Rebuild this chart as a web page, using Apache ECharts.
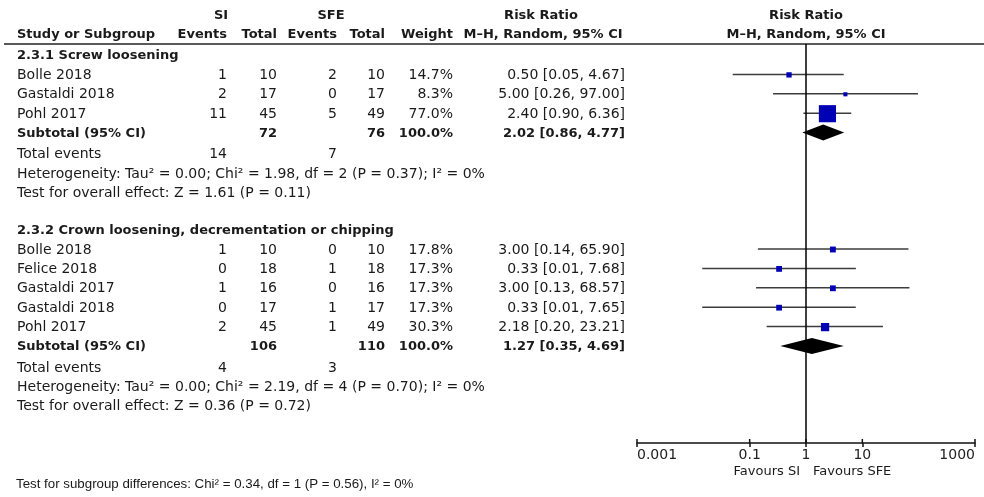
<!DOCTYPE html>
<html>
<head>
<meta charset="utf-8">
<script src="https://cdn.jsdelivr.net/npm/echarts@6/dist/echarts.min.js"></script>
<style>
  html, body { margin: 0; padding: 0; background: #fff; }
  #chart { width: 984px; height: 497px; }
</style>
</head>
<body>
<div id="chart"></div>
<script>
// ---- 2.3.1 Screw loosening ----
const screwStudies   = ['Bolle 2018', 'Gastaldi 2018', 'Pohl 2017'];
const screwSIEvents  = [1, 2, 11];
const screwSITotal   = [10, 17, 45];
const screwSFEEvents = [2, 0, 5];
const screwSFETotal  = [10, 17, 49];
const screwWeight    = [14.7, 8.3, 77.0];
const screwRR        = [0.50, 5.00, 2.40];
const screwLower     = [0.05, 0.26, 0.90];
const screwUpper     = [4.67, 97.00, 6.36];
const screwPooled    = [2.02, 0.86, 4.77];   // estimate, lower, upper
const screwTotals    = [72, 76];             // SI, SFE participants
const screwEvents    = [14, 7];              // SI, SFE events
const screwHet       = 'Heterogeneity: Tau² = 0.00; Chi² = 1.98, df = 2 (P = 0.37); I² = 0%';
const screwEffect    = 'Test for overall effect: Z = 1.61 (P = 0.11)';

// ---- 2.3.2 Crown loosening, decrementation or chipping ----
const crownStudies   = ['Bolle 2018', 'Felice 2018', 'Gastaldi 2017', 'Gastaldi 2018', 'Pohl 2017'];
const crownSIEvents  = [1, 0, 1, 0, 2];
const crownSITotal   = [10, 18, 16, 17, 45];
const crownSFEEvents = [0, 1, 0, 1, 1];
const crownSFETotal  = [10, 18, 16, 17, 49];
const crownWeight    = [17.8, 17.3, 17.3, 17.3, 30.3];
const crownRR        = [3.00, 0.333, 3.00, 0.333, 2.18];
const crownLower     = [0.14, 0.0144, 0.13, 0.0144, 0.20];
const crownUpper     = [65.90, 7.68, 68.57, 7.65, 23.21];
const crownPooled    = [1.27, 0.35, 4.69];
const crownTotals    = [106, 110];
const crownEvents    = [4, 3];
const crownHet       = 'Heterogeneity: Tau² = 0.00; Chi² = 2.19, df = 4 (P = 0.70); I² = 0%';
const crownEffect    = 'Test for overall effect: Z = 0.36 (P = 0.72)';

const subgroupTest = 'Test for subgroup differences: Chi² = 0.34, df = 1 (P = 0.56), I² = 0%';
const axisTicks = [0.001, 0.1, 1, 10, 1000];

// ---- layout ----
const ROW0 = 55, ROW_H = 19.4;
const rowY = i => ROW0 + i * ROW_H;
const FONT = '"DejaVu Sans", Verdana, sans-serif';
const INK = '#1a1a1a';
const COL = { study: 17, siEv: 227, siTot: 277, sfeEv: 337, sfeTot: 385, weight: 453, rr: 625 };

function txt(str, x, y, align, bold, size, family) {
  return {
    type: 'text', x: x, y: y, silent: true,
    style: {
      text: String(str),
      align: align, textAlign: align,
      verticalAlign: 'middle', textVerticalAlign: 'middle',
      font: (bold ? 'bold ' : '') + (size || (bold ? 13 : 14)) + 'px ' + (family || FONT),
      fill: INK
    }
  };
}
const fmt2 = v => v.toFixed(2);
const ciText = (rr, lo, hi) => fmt2(rr) + ' [' + fmt2(lo) + ', ' + fmt2(hi) + ']';

const graphics = [];
// column headers
graphics.push(txt('SI', 221, 16, 'center', true));
graphics.push(txt('SFE', 331, 16, 'center', true));
graphics.push(txt('Risk Ratio', 541, 16, 'center', true));
graphics.push(txt('Risk Ratio', 806, 16, 'center', true));
graphics.push(txt('Study or Subgroup', COL.study, 35, 'left', true));
graphics.push(txt('Events', COL.siEv, 35, 'right', true));
graphics.push(txt('Total', COL.siTot, 35, 'right', true));
graphics.push(txt('Events', COL.sfeEv, 35, 'right', true));
graphics.push(txt('Total', COL.sfeTot, 35, 'right', true));
graphics.push(txt('Weight', COL.weight, 35, 'right', true));
graphics.push(txt('M\u2013H, Random, 95% CI', 543, 35, 'center', true));
graphics.push(txt('M\u2013H, Random, 95% CI', 806, 35, 'center', true));
graphics.push({
  type: 'line', silent: true,
  shape: { x1: 4, y1: 44, x2: 984, y2: 44 },
  style: { stroke: '#222', lineWidth: 1.5 }
});

const forestRows = [];
const pooledRows = [];

function addGroup(startRow, title, studies, siEv, siTot, sfeEv, sfeTot, wt, rr, lo, hi, pooled, totals, events, het, effect) {
  const ty = r => rowY(r) + 1;
  graphics.push(txt(title, COL.study, ty(startRow), 'left', true));
  studies.forEach((s, k) => {
    const r = startRow + 1 + k;
    graphics.push(txt(s, COL.study, ty(r), 'left'));
    graphics.push(txt(siEv[k], COL.siEv, ty(r), 'right'));
    graphics.push(txt(siTot[k], COL.siTot, ty(r), 'right'));
    graphics.push(txt(sfeEv[k], COL.sfeEv, ty(r), 'right'));
    graphics.push(txt(sfeTot[k], COL.sfeTot, ty(r), 'right'));
    graphics.push(txt(wt[k].toFixed(1) + '%', COL.weight, ty(r), 'right'));
    graphics.push(txt(ciText(rr[k], lo[k], hi[k]), COL.rr, ty(r), 'right'));
    forestRows.push([rr[k], r, lo[k], hi[k], wt[k]]);
  });
  const sr = startRow + 1 + studies.length;
  graphics.push(txt('Subtotal (95% CI)', COL.study, ty(sr), 'left', true));
  graphics.push(txt(totals[0], COL.siTot, ty(sr), 'right', true));
  graphics.push(txt(totals[1], COL.sfeTot, ty(sr), 'right', true));
  graphics.push(txt('100.0%', COL.weight, ty(sr), 'right', true));
  graphics.push(txt(ciText(pooled[0], pooled[1], pooled[2]), COL.rr, ty(sr), 'right', true));
  pooledRows.push([pooled[0], sr, pooled[1], pooled[2]]);
  graphics.push(txt('Total events', COL.study, ty(sr + 1) + 1.5, 'left'));
  graphics.push(txt(events[0], COL.siEv, ty(sr + 1) + 1.5, 'right'));
  graphics.push(txt(events[1], COL.sfeEv, ty(sr + 1) + 1.5, 'right'));
  graphics.push(txt(het, COL.study, ty(sr + 2) + 1.5, 'left'));
  graphics.push(txt(effect, COL.study, ty(sr + 3) + 1.5, 'left'));
}

addGroup(0, '2.3.1 Screw loosening', screwStudies, screwSIEvents, screwSITotal, screwSFEEvents, screwSFETotal,
  screwWeight, screwRR, screwLower, screwUpper, screwPooled, screwTotals, screwEvents, screwHet, screwEffect);
addGroup(9, '2.3.2 Crown loosening, decrementation or chipping', crownStudies, crownSIEvents, crownSITotal,
  crownSFEEvents, crownSFETotal, crownWeight, crownRR, crownLower, crownUpper, crownPooled, crownTotals,
  crownEvents, crownHet, crownEffect);

graphics.push(txt('Favours SI', 800, 472, 'right', false, 13));
graphics.push(txt('Favours SFE', 813, 472, 'left', false, 13));
graphics.push(txt(subgroupTest, 16, 484, 'left', false, 13.3, '"Liberation Sans", Arial, sans-serif'));

// ---- chart ----
const GRID_TOP = 44, GRID_BOTTOM = 443;
const Y_MIN = (GRID_TOP - ROW0) / ROW_H, Y_MAX = (GRID_BOTTOM - ROW0) / ROW_H;
const chart = echarts.init(document.getElementById('chart'), null, { renderer: 'canvas' });

chart.setOption({
  animation: false,
  backgroundColor: '#fff',
  grid: { left: 637, top: GRID_TOP, width: 338, height: GRID_BOTTOM - GRID_TOP },
  xAxis: {
    type: 'log', logBase: 10, min: 0.001, max: 1000, position: 'bottom',
    splitLine: { show: false }, minorTick: { show: false },
    axisLine: { show: true, onZero: false, lineStyle: { color: '#111', width: 1.5 } },
    axisTick: { show: true, length: 4, customValues: axisTicks, lineStyle: { color: '#111', width: 1.5 } },
    axisLabel: {
      show: true, customValues: axisTicks, margin: 5,
      color: '#222', fontFamily: FONT, fontSize: 14,
      alignMinLabel: 'left', alignMaxLabel: 'right',
      formatter: v => String(+v)
    }
  },
  yAxis: { type: 'value', inverse: true, show: false, min: Y_MIN, max: Y_MAX },
  series: [
    {
      // upper half of the axis ticks (the axis itself draws the lower half)
      type: 'custom', name: 'tickUp', silent: true, z: 5,
      data: axisTicks.map(v => [v, Y_MAX]),
      renderItem: function (params, api) {
        const p = api.coord([api.value(0), api.value(1)]);
        return {
          type: 'line',
          shape: { x1: p[0], y1: p[1] - 4, x2: p[0], y2: p[1] },
          style: { stroke: '#111', lineWidth: 1.5 }
        };
      }
    },
    {
      type: 'custom', name: 'studies', data: forestRows, z: 3,
      renderItem: function (params, api) {
        const r = api.value(1);
        const y = api.coord([1, r])[1];
        const xl = api.coord([api.value(2), r])[0];
        const xh = api.coord([api.value(3), r])[0];
        const c = api.coord([api.value(0), r]);
        const s = 2.5 + 0.19 * api.value(4);
        return {
          type: 'group',
          children: [
            { type: 'line', shape: { x1: xl, y1: y, x2: xh, y2: y }, style: { stroke: '#3c3c3c', lineWidth: 1.5 } },
            { type: 'rect', shape: { x: c[0] - s / 2, y: c[1] - s / 2 + 0.5, width: s, height: s }, style: { fill: '#0000b4' } }
          ]
        };
      },
      markLine: {
        silent: true, symbol: 'none', label: { show: false },
        lineStyle: { color: '#000', width: 1.5, type: 'solid' },
        data: [{ xAxis: 1 }]
      }
    },
    {
      type: 'custom', name: 'pooled', data: pooledRows, z: 4,
      renderItem: function (params, api) {
        const r = api.value(1);
        const c = api.coord([api.value(0), r]);
        const xl = api.coord([api.value(2), r])[0];
        const xh = api.coord([api.value(3), r])[0];
        const h = 8;
        return {
          type: 'polygon',
          shape: { points: [[xl, c[1]], [c[0], c[1] - h], [xh, c[1]], [c[0], c[1] + h]] },
          style: { fill: '#000' }
        };
      }
    }
  ],
  graphic: { elements: graphics }
});
</script>
</body>
</html>
